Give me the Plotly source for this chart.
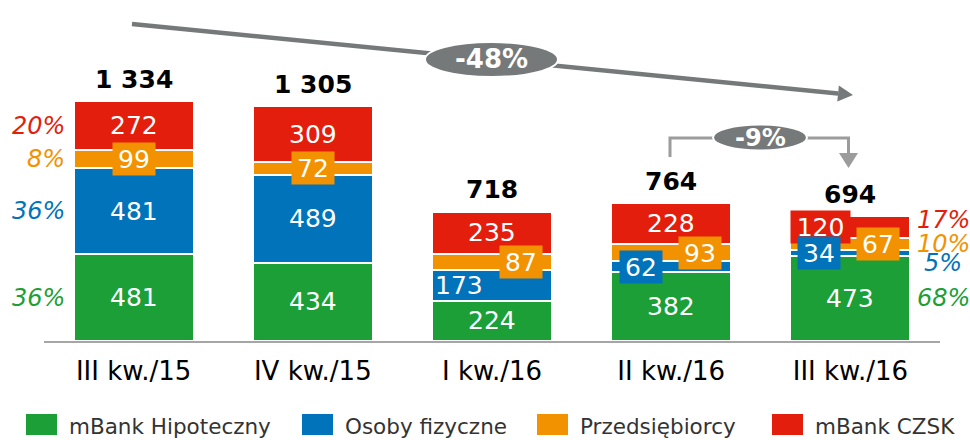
import numpy as np
import plotly.graph_objects as go

# data
categories = ["III kw./15", "IV kw./15", "I kw./16", "II kw./16", "III kw./16"]
series_names = ["mBank Hipoteczny", "Osoby fizyczne", "Przedsiębiorcy", "mBank CZSK"]
hipoteczny = [481, 434, 224, 382, 473]
osoby_fizyczne = [481, 489, 173, 62, 34]
przedsiebiorcy = [99, 72, 87, 93, 67]
czsk = [272, 309, 235, 228, 120]
totals_text = ["1 334", "1 305", "718", "764", "694"]
share_first = ["36%", "36%", "8%", "20%"]
share_last = ["68%", "5%", "10%", "17%"]
change_total = "-48%"
change_quarter = "-9%"

colors = ["#1c9f37", "#0073bb", "#f39200", "#e41e0c"]
FONT = "DejaVu Sans"

values = np.array([hipoteczny, osoby_fizyczne, przedsiebiorcy, czsk])
tops = np.cumsum(values, axis=0)
mids = tops - values / 2
bar_tops = tops[-1]

# plot area in pixels (used only for decorations)
L, R, T, B = 44, 940, 20, 341


def px(x):
    return (x - L) / (R - L)


def py(y):
    return (B - y) / (B - T)


fig = go.Figure()
for i, name in enumerate(series_names):
    fig.add_trace(go.Bar(
        x=list(range(len(categories))),
        y=values[i],
        name=name,
        marker_color=colors[i],
        marker_line_color="white",
        marker_line_width=2,
        showlegend=False,
        hoverinfo="skip",
    ))

# label styling per (series, bar): (xshift, boxed, box width)
special = {
    (2, 0): (0, True, 42),
    (2, 1): (0, True, 42),
    (1, 2): (-33, False, None),
    (2, 2): (29, True, 42),
    (1, 3): (-30, True, 42),
    (2, 3): (29, True, 42),
    (1, 4): (-31, True, 42),
    (2, 4): (28, True, 42),
    (3, 4): (-30, True, 59),
}

annotations = []
for s in [3, 2, 1, 0]:
    for j in range(len(categories)):
        xshift, boxed, width = special.get((s, j), (0, False, None))
        ann = dict(
            x=j, y=mids[s][j], xref="x", yref="y",
            text=str(values[s][j]), showarrow=False,
            xshift=xshift, yanchor="middle",
            font=dict(family=FONT, size=25, color="white"),
        )
        if boxed:
            ann.update(bgcolor=colors[s], width=width, height=32, borderpad=0)
        annotations.append(ann)

for j, txt in enumerate(totals_text):
    annotations.append(dict(
        x=j, y=bar_tops[j], xref="x", yref="y", text=f"<b>{txt}</b>",
        showarrow=False, yshift=22, yanchor="middle",
        font=dict(family=FONT, size=25, color="black"),
    ))

# shares on the sides of the first and last bar
for s, txt in enumerate(share_first):
    annotations.append(dict(
        x=0, y=mids[s][0], xref="x", yref="y", text=f"<i>{txt}</i>",
        showarrow=False, xanchor="right", xshift=-67, yanchor="middle",
        font=dict(family=FONT, size=24, color=colors[s]),
    ))
last_yshift = [0, -10, 0, 7]
for s, txt in enumerate(share_last):
    annotations.append(dict(
        x=4, y=mids[s][4], xref="x", yref="y", text=f"<i>{txt}</i>",
        showarrow=False, xanchor="center", xshift=93, yshift=last_yshift[s],
        yanchor="middle",
        font=dict(family=FONT, size=24, color=colors[s]),
    ))

# decorations: trend arrow and quarter bracket
grey = "#76797a"
light_grey = "#9c9c9c"
shapes = []

tail = np.array([132.0, 24.0])
tip = np.array([853.0, 95.0])
d = (tip - tail) / np.linalg.norm(tip - tail)
n = np.array([-d[1], d[0]])
base = tip - 15 * d
shapes.append(dict(type="line", xref="paper", yref="paper",
                   x0=px(tail[0]), y0=py(tail[1]), x1=px(base[0]), y1=py(base[1]),
                   line=dict(color=grey, width=4.5)))
c1, c2 = base + 8 * n, base - 8 * n
shapes.append(dict(type="path", xref="paper", yref="paper",
                   path=f"M {px(tip[0])},{py(tip[1])} L {px(c1[0])},{py(c1[1])} "
                        f"L {px(c2[0])},{py(c2[1])} Z",
                   fillcolor=grey, line=dict(width=0)))
shapes.append(dict(type="circle", xref="paper", yref="paper",
                   x0=px(491.5 - 66.5), x1=px(491.5 + 66.5),
                   y0=py(59.5 + 17.5), y1=py(59.5 - 17.5),
                   fillcolor=grey, line=dict(color="white", width=2)))

shapes.append(dict(type="path", xref="paper", yref="paper",
                   path=f"M {px(670)},{py(157)} L {px(670)},{py(138)} "
                        f"L {px(848.5)},{py(138)} L {px(848.5)},{py(154)}",
                   line=dict(color=light_grey, width=3)))
shapes.append(dict(type="path", xref="paper", yref="paper",
                   path=f"M {px(839)},{py(153)} L {px(858)},{py(153)} "
                        f"L {px(848.5)},{py(168)} Z",
                   fillcolor=light_grey, line=dict(width=0)))
shapes.append(dict(type="circle", xref="paper", yref="paper",
                   x0=px(760 - 47), x1=px(760 + 47),
                   y0=py(137.5 + 13), y1=py(137.5 - 13),
                   fillcolor=grey, line=dict(color="white", width=2)))

annotations.append(dict(x=px(491.5), y=py(59.5), xref="paper", yref="paper",
                        xanchor="center", yanchor="middle",
                        text=f"<b>{change_total}</b>", showarrow=False,
                        font=dict(family=FONT, size=26, color="white")))
annotations.append(dict(x=px(760), y=py(137.5), xref="paper", yref="paper",
                        xanchor="center", yanchor="middle",
                        text=f"<b>{change_quarter}</b>", showarrow=False,
                        font=dict(family=FONT, size=24, color="white")))

# legend drawn by hand to get the large swatches
legend_swatch_x = [26, 302, 537, 772]
for i, name in enumerate(series_names):
    x0 = legend_swatch_x[i]
    shapes.append(dict(type="rect", xref="paper", yref="paper",
                       x0=px(x0), x1=px(x0 + 31), y0=py(435), y1=py(414),
                       fillcolor=colors[i], line=dict(width=0)))
    annotations.append(dict(x=px(x0 + 41), y=py(426), xref="paper", yref="paper",
                            text=name, showarrow=False, xanchor="left",
                            yanchor="middle",
                            font=dict(family=FONT, size=21.5, color="#333333")))

fig.update_layout(
    barmode="stack",
    bargap=0.33,
    width=970,
    height=440,
    margin=dict(l=L, r=970 - R, t=T, b=440 - B),
    plot_bgcolor="white",
    paper_bgcolor="white",
    showlegend=False,
    annotations=annotations,
    shapes=shapes,
    xaxis=dict(
        tickvals=list(range(len(categories))),
        ticktext=categories,
        range=[-0.5, 4.5],
        showline=True,
        linecolor="#a6a6a6",
        linewidth=2,
        ticks="",
        showgrid=False,
        ticklabelstandoff=6,
        tickfont=dict(family=FONT, size=26, color="black"),
    ),
    yaxis=dict(visible=False, range=[0, 321 / 0.18]),
)

fig.write_html("out.html", config={"displayModeBar": False},
               post_script="document.body.style.margin='0';")
